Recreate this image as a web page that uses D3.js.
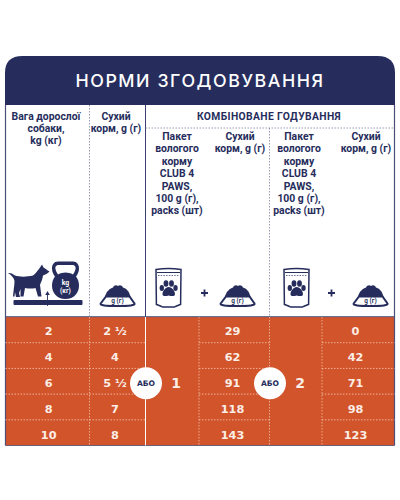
<!DOCTYPE html>
<html><head><meta charset="utf-8">
<script src="https://cdn.jsdelivr.net/npm/d3@7/dist/d3.min.js"></script>
<style>html,body{margin:0;padding:0;background:#fff}svg{display:block}</style>
</head><body><svg id="c" width="400" height="500"></svg>
<script>
const title = "НОРМИ ЗГОДОВУВАННЯ";
const groupTitle = "КОМБІНОВАНЕ ГОДУВАННЯ";
const weights = ["2","4","6","8","10"];
const dryOnly = ["2 ½","4","5 ½","7","8"];
const dryWithOne = ["29","62","91","118","143"];
const dryWithTwo = ["0","42","71","98","123"];
const packs = ["1","2"];
const orWord = "АБО";
const headWeight = ["Вага дорослої","собаки,","kg (кг)"];
const headDry = ["Сухий","корм, g (г)"];
const headPack = ["Пакет","вологого","корму","CLUB 4","PAWS,","100 g (г),","packs (шт)"];

const navy="#262d5c", orange="#d2542b", bodyFont="Roboto,sans-serif", numFont="'DejaVu Sans',sans-serif";
const svg=d3.select("#c");
const L=5.5,R=394.5,T=56,H=105,O=317,B=445.5;
const y=d3.scaleBand().domain(d3.range(5)).range([O,B]);
const yText=d3.scalePoint().domain(d3.range(5)).range([335,439]);

svg.append("rect").attr("x",L).attr("y",H).attr("width",R-L).attr("height",O-H).attr("fill","#fff");
svg.append("path").attr("d",`M${L-0.5},${H}V${T+17}Q${L-0.5},${T} ${L+17},${T}H${R-17}Q${R+0.5},${T} ${R+0.5},${T+17}V${H}Z`).attr("fill",navy);
svg.append("rect").attr("x",L).attr("y",O).attr("width",R-L).attr("height",B-O).attr("fill",orange);
const ln=(x1,y1,x2,y2,c,w,d)=>svg.append("line").attr("x1",x1).attr("y1",y1).attr("x2",x2).attr("y2",y2).attr("stroke",c).attr("stroke-width",w).attr("stroke-dasharray",d||null);
ln(L,H,L,B,"#4b4f78",1.2); ln(R,H,R,B,"#4b4f78",1.2); ln(L,B,R,B,"#6b5f78",1); ln(L,O-.3,R,O-.3,"#4b4f78",1);
ln(89.5,H,89.5,O,"#7d80a0",.8,"1.5 1.5");
ln(145.5,H,145.5,O,"#3a4070",1);
ln(269.5,128,269.5,O,"#7d80a0",.8,"1.5 1.5");
ln(145.5,128,R,128,"#7d80a0",.8,"1.5 1.5");
ln(89.5,O,89.5,B,"#f0c0a8",.8,"1.5 1.5");
ln(145.5,O,145.5,B,"#fff",1);
[199,269.5,322].forEach(x=>ln(x,O,x,B,"#f0c0a8",.8,"1.5 1.5"));
d3.range(1,5).forEach(i=>{
  ln(L,y(i),145.5,y(i),"#f3c8b4",.8,"1.5 1.5");
  ln(199,y(i),269.5,y(i),"#f3c8b4",.8,"1.5 1.5");
  ln(322,y(i),R,y(i),"#f3c8b4",.8,"1.5 1.5");
});

svg.append("text").attr("x",200).attr("y",87).attr("text-anchor","middle").attr("fill","#fff")
  .attr("font-family","Inter,sans-serif").attr("font-size",17.8).attr("font-weight",500).attr("letter-spacing",1.55).text(title);
svg.append("text").attr("x",269).attr("y",120).attr("text-anchor","middle").attr("fill",navy)
  .attr("font-family",bodyFont).attr("font-size",10.3).attr("font-weight",700).attr("letter-spacing",.38).text(groupTitle);

function head(lines,x,y0,step){
  svg.append("g").selectAll("text").data(lines).join("text").attr("x",x).attr("y",(d,i)=>y0+i*step)
   .attr("text-anchor","middle").attr("fill",navy).attr("font-family",bodyFont)
   .attr("font-size",10.4).attr("font-weight",700).text(d=>d);
}
head(headWeight,46,119.5,12.4);
head(headDry,116,119.5,12.4);
head(headPack,177,140,12.4);
head(headDry,240,140,12.4);
head(headPack,299,140,12.4);
head(headDry,366,140,12.4);

function col(vals,x){
  svg.append("g").selectAll("text").data(vals).join("text").attr("x",x).attr("y",(d,i)=>yText(i))
   .attr("text-anchor","middle").attr("fill","#fbeee6").attr("font-family",numFont)
   .attr("font-size",11.3).attr("font-weight",700).text(d=>d);
}
col(weights,48.7); col(dryOnly,115); col(dryWithOne,232.5); col(dryWithTwo,355.5);

const midY=383.3;
[[146,176,packs[0]],[270,300,packs[1]]].forEach(([cxx,nx,p])=>{
  svg.append("text").attr("x",nx).attr("y",midY+5).attr("text-anchor","middle").attr("fill","#fbeee6")
    .attr("font-family",numFont).attr("font-size",14).attr("font-weight",700).text(p);
  svg.append("circle").attr("cx",cxx).attr("cy",midY).attr("r",16).attr("fill","#fff");
  svg.append("text").attr("x",cxx).attr("y",midY+2.8).attr("text-anchor","middle").attr("fill",navy)
    .attr("font-family",numFont).attr("font-size",7.6).attr("font-weight",700).text(orWord);
});

function bowl(x0){
  const g=svg.append("g").attr("transform",`translate(${x0},285)`);
  g.append("path").attr("fill",navy).attr("d","M5.5,12C6.5,6 11,3.5 13.5,2.5C14.5,.2 16.8,-.5 18.5,1C20,-.5 22.5,.2 23.5,2.5C26.5,3.5 30,6 31,12Z");
  g.append("path").attr("d","M6.5,11.5H30L35,18.5C36,20.5 30,21 18,21C6,21 0,20.5 1.2,18.5Z").attr("fill","#fff").attr("stroke",navy).attr("stroke-width",2);
  g.append("text").attr("x",18).attr("y",18.3).attr("text-anchor","middle").attr("fill",navy).attr("font-family",bodyFont).attr("font-size",6.4).attr("font-weight",700).text("g (г)");
}
bowl(99.5); bowl(219.5); bowl(352.5);

function pouch(x0){
  const g=svg.append("g").attr("transform",`translate(${x0},268)`);
  g.append("path").attr("d","M1,1.5C8,.5 19,.5 26,1.5L25.6,36.5C23,37.5 21,38 19.5,39H7.5C6,38 4,37.5 1.4,36.5Z").attr("fill","#fff").attr("stroke",navy).attr("stroke-width",1.5);
  g.append("path").attr("d","M2,4.5H25").attr("stroke",navy).attr("stroke-width",1);
  g.append("path").attr("d","M3,7.5H24").attr("stroke",navy).attr("stroke-width",.7).attr("stroke-dasharray","1.5 1.2");
  g.append("g").attr("fill",navy).call(s=>{
    s.append("ellipse").attr("cx",6.8).attr("cy",20).attr("rx",2.2).attr("ry",3);
    s.append("ellipse").attr("cx",11).attr("cy",15.5).attr("rx",2.4).attr("ry",3.3);
    s.append("ellipse").attr("cx",16.5).attr("cy",15.5).attr("rx",2.4).attr("ry",3.3);
    s.append("ellipse").attr("cx",20.5).attr("cy",20).attr("rx",2.2).attr("ry",3);
    s.append("path").attr("d","M13.7,19C17,19 20,23 20,26C20,28.5 17,28.5 13.7,27.5C10.5,28.5 7.5,28.5 7.5,26C7.5,23 10.5,19 13.7,19Z");
  });
}
pouch(155); pouch(283);

[204.5,331.5].forEach(x=>{
  svg.append("path").attr("d",`M${x-3.5},293H${x+3.5}M${x},${293-3.5}V${293+3.5}`).attr("stroke",navy).attr("stroke-width",1.8).attr("fill","none");
});

svg.append("path").attr("fill",navy).attr("d","M8,273C11,272.5 13,274 15,275.5C19,277 27,277 33,275.5C35,274.5 37,271 39,269L42,264.5L43.5,267.5C45,268.5 47,270 49.5,271.5C48,273.5 45,274.5 43,275.5C42.5,279.5 41,282 40,285L41.5,296.5H38L35.5,288C32,289 28,288.5 25,288L23.5,296.5H20.5L20.5,289L19,293L20,297H16L15,292L14.5,296.5H13C13.5,290 14.5,285 14.5,281C14,277.5 11,275 8,273Z");
svg.append("path").attr("fill",navy).attr("d","M58,261.5H73C77,261.5 79.2,265 79,268.5C79,272 77.5,274.5 76,276.5C78,279 79,282 79,285.5C79,293 74,299 65.5,299C57,299 52,293 52,285.5C52,282 53,279 55,276.5C53.5,274.5 52,272 52,268.5C51.8,265 54,261.5 58,261.5Z");
svg.append("path").attr("fill","#fff").attr("d","M59,265H72C75,265 76,267 75.5,269C75.2,271 74,273 73,274.5C70.5,273.3 68,272.6 65.5,272.6C63,272.6 60.5,273.3 58,274.5C57,273 55.8,271 55.5,269C55,267 56,265 59,265Z");
svg.append("text").attr("x",65.5).attr("y",284.5).attr("text-anchor","middle").attr("fill","#fff").attr("font-family",bodyFont).attr("font-size",6.8).attr("font-weight",700).text("kg");
svg.append("text").attr("x",65.5).attr("y",292.5).attr("text-anchor","middle").attr("fill","#fff").attr("font-family",bodyFont).attr("font-size",6.4).attr("font-weight",700).text("(кг)");
svg.append("rect").attr("x",13.5).attr("y",300).attr("width",69).attr("height",5).attr("rx",1).attr("fill",navy);
svg.append("path").attr("d","M47.5,306V293").attr("stroke",navy).attr("stroke-width",.9);
svg.append("path").attr("d","M45.2,295L47.5,291L49.8,295Z").attr("fill",navy);
</script></body></html>
